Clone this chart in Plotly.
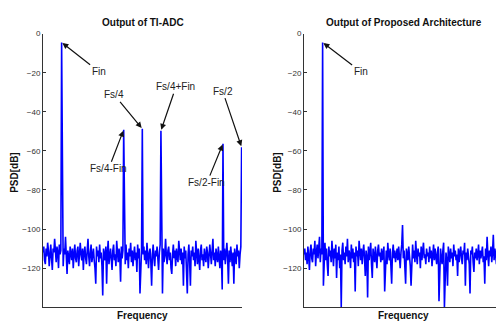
import numpy as np
import plotly.graph_objects as go

W, H = 496, 321

# FFT bin index 0..256 (0 .. Fs/2)
n_bins = 257

noise_left = [
    -112, -109, -116, -118, -110, -114, -107, -111, -119, -113, -108, -115, -121, -110, -112, -105,
    -114, -117, -109, -112, -120, -108, -113, -111, -110, -116, -119, -110, -113, -104, -115, -123,
    -111, -114, -118, -109, -112, -116, -110, -120, -113, -108, -115, -117, -111, -109, -119, -114,
    -107, -113, -116, -110, -121, -112, -109, -115, -118, -111, -105, -114, -119, -112, -108, -117,
    -113, -110, -116, -120, -128, -109, -114, -111, -117, -108, -115, -112, -119, -134, -110, -113,
    -116, -109, -128, -112, -106, -118, -114, -110, -115, -121, -111, -108, -116, -113, -119, -106,
    -112, -117, -110, -114, -127, -109, -115, -111, -110, -113, -118, -108, -116, -112, -120, -110,
    -114, -107, -117, -111, -119, -113, -109, -116, -112, -122, -108, -115, -110, -133, -118, -111,
    -110, -113, -109, -116, -111, -118, -107, -114, -120, -112, -110, -117, -129, -113, -108, -115,
    -119, -111, -114, -109, -116, -121, -112, -108, -110, -115, -133, -110, -117, -113, -105, -114,
    -118, -111, -109, -116, -112, -120, -123, -113, -108, -115, -111, -119, -110, -114, -117, -106,
    -113, -116, -110, -118, -112, -129, -109, -115, -111, -120, -133, -113, -108, -117, -129, -111,
    -114, -109, -116, -112, -119, -106, -113, -118, -110, -115, -121, -111, -108, -116, -113, -119,
    -110, -114, -117, -109, -112, -120, -115, -108, -113, -118, -111, -105, -116, -112, -119, -110,
    -114, -117, -109, -113, -120, -111, -115, -131, -110, -116, -110, -118, -112, -107, -115, -128,
    -111, -117, -109, -113, -119, -112, -128, -110, -115, -118, -108, -114, -111, -120, -113, -109,
    -112,
]

noise_right = [
    -113, -110, -116, -112, -118, -109, -114, -121, -111, -108, -115, -117, -110, -113, -106, -119,
    -112, -108, -115, -111, -104, -117, -110, -113, -110, -129, -112, -107, -116, -110, -118, -124,
    -109, -114, -111, -117, -106, -113, -119, -110, -115, -108, -125, -112, -116, -109, -120, -113,
    -140, -111, -107, -116, -112, -118, -109, -114, -105, -117, -111, -113, -120, -108, -115, -110,
    -117, -112, -132, -109, -114, -111, -119, -106, -113, -116, -110, -118, -112, -108, -115, -124,
    -111, -114, -135, -109, -116, -112, -107, -118, -125, -110, -113, -117, -109, -115, -120, -111,
    -108, -114, -112, -117, -110, -116, -113, -109, -132, -115, -111, -118, -107, -113, -116, -110,
    -119, -128, -112, -108, -115, -111, -117, -113, -110, -116, -109, -114, -120, -112, -108, -98,
    -115, -111, -117, -128, -110, -113, -116, -109, -114, -119, -129, -112, -108, -115, -111, -117,
    -106, -113, -118, -110, -114, -112, -120, -109, -116, -111, -107, -115, -113, -118, -110, -114,
    -112, -117, -109, -115, -111, -119, -113, -108, -116, -110, -114, -118, -112, -109, -137, -113,
    -110, -115, -118, -111, -107, -140, -114, -112, -116, -129, -109, -113, -117, -110, -115, -112,
    -119, -108, -114, -111, -116, -113, -124, -110, -117, -112, -109, -115, -118, -111, -113, -107,
    -129, -112, -116, -110, -114, -118, -133, -111, -113, -109, -117, -122, -112, -115, -110, -116,
    -113, -108, -118, -111, -115, -112, -109, -117, -114, -128, -110, -116, -104, -113, -119, -111,
    -114, -109, -117, -112, -103, -116, -110, -113, -118, -111, -107, -115, -112, -119, -110, -114,
    -113,
]

# tones: bin index and level in dB
tone_labels_left = ["Fin", "Fs/4-Fin", "Fs/4", "Fs/4+Fin", "Fs/2-Fin", "Fs/2"]
tone_bins_left = [24, 104, 128, 152, 232, 256]
tone_levels_left = [-4.5, -49.2, -48.7, -49.7, -56.3, -58.1]

tone_labels_right = ["Fin"]
tone_bins_right = [24]
tone_levels_right = [-4.5]

bins = np.arange(n_bins)
psd_left = np.array(noise_left, dtype=float)
psd_left[tone_bins_left] = tone_levels_left
psd_right = np.array(noise_right, dtype=float)
psd_right[tone_bins_right] = tone_levels_right

# layout in pixels
L1, R1 = 43, 242
L2, R2 = 304, 503
TOP, BOT = 30, 307

def px(x):
    return x / W

def py(y):
    return 1 - y / H

fig = go.Figure()
fig.add_trace(go.Scatter(x=bins, y=psd_left, mode="lines",
                         line=dict(color="#0000FF", width=1.6), xaxis="x", yaxis="y",
                         showlegend=False, hoverinfo="skip"))
fig.add_trace(go.Scatter(x=bins, y=psd_right, mode="lines",
                         line=dict(color="#0000FF", width=1.6), xaxis="x2", yaxis="y2",
                         showlegend=False, hoverinfo="skip"))

font_fam = "Liberation Sans, Arial, sans-serif"
axis_common = dict(showgrid=False, zeroline=False, showline=True, linecolor="#333333",
                   linewidth=1, mirror=False)

xmax = n_bins - 1
fig.update_layout(
    width=W, height=H,
    margin=dict(l=0, r=0, t=0, b=0),
    paper_bgcolor="white", plot_bgcolor="white",
    font=dict(family=font_fam, color="#222222"),
    xaxis=dict(domain=[px(L1), px(R1)], range=[0, xmax + 0.5], showticklabels=False,
               ticks="", anchor="y", **axis_common),
    yaxis=dict(domain=[py(BOT), py(TOP)], range=[-140, 0], anchor="x",
               tickvals=[0, -20, -40, -60, -80, -100, -120], ticks="inside", ticklen=3,
               tickcolor="#333333", tickfont=dict(size=8, color="#333333"), **axis_common),
    xaxis2=dict(domain=[px(L2), 1.0], range=[0, (xmax + 0.5) * (W - L2) / (R2 - L2)],
                showticklabels=False, ticks="", anchor="y2", **axis_common),
    yaxis2=dict(domain=[py(BOT), py(TOP)], range=[-140, 0], anchor="x2",
                tickvals=[0, -20, -40, -60, -80, -100, -120], ticks="inside", ticklen=3,
                tickcolor="#333333", tickfont=dict(size=8, color="#333333"), **axis_common),
)

ann = []
# titles
for cx, txt in [((L1 + R1) / 2, "Output of TI-ADC"), ((L2 + R2) / 2, "Output of Proposed Architecture")]:
    ann.append(dict(x=px(cx), y=py(19), xref="paper", yref="paper", text="<b>%s</b>" % txt,
                    showarrow=False, font=dict(size=10, color="#111111"),
                    xanchor="center", yanchor="middle"))
    ann.append(dict(x=px(cx), y=py(315), xref="paper", yref="paper", text="<b>Frequency</b>",
                    showarrow=False, font=dict(size=10, color="#111111"),
                    xanchor="center", yanchor="middle"))
for xx in [15, 278]:
    ann.append(dict(x=px(xx), y=py(171), xref="paper", yref="paper", text="<b>PSD[dB]</b>",
                    showarrow=False, textangle=-90, font=dict(size=10, color="#111111"),
                    xanchor="center", yanchor="middle"))

# arrow offsets (pixels) of labels from the tone peaks
offsets_left = [(37, 29), (-15, 39), (-28, -34), (15, -44), (-16, 39), (-19, -56)]
for lab, b, lv, (ax, ay) in zip(tone_labels_left, tone_bins_left, tone_levels_left, offsets_left):
    ann.append(dict(x=b, y=lv, xref="x", yref="y", text=lab, showarrow=True,
                    ax=ax, ay=ay, arrowhead=2, arrowsize=1, arrowwidth=1.2,
                    arrowcolor="#111111", font=dict(size=10, color="#222222"), standoff=1))
offsets_right = [(38, 29)]
for lab, b, lv, (ax, ay) in zip(tone_labels_right, tone_bins_right, tone_levels_right, offsets_right):
    ann.append(dict(x=b, y=lv, xref="x2", yref="y2", text=lab, showarrow=True,
                    ax=ax, ay=ay, arrowhead=2, arrowsize=1, arrowwidth=1.2,
                    arrowcolor="#111111", font=dict(size=10, color="#222222"), standoff=1))

fig.update_layout(annotations=ann)
fig.write_html("out.html")
